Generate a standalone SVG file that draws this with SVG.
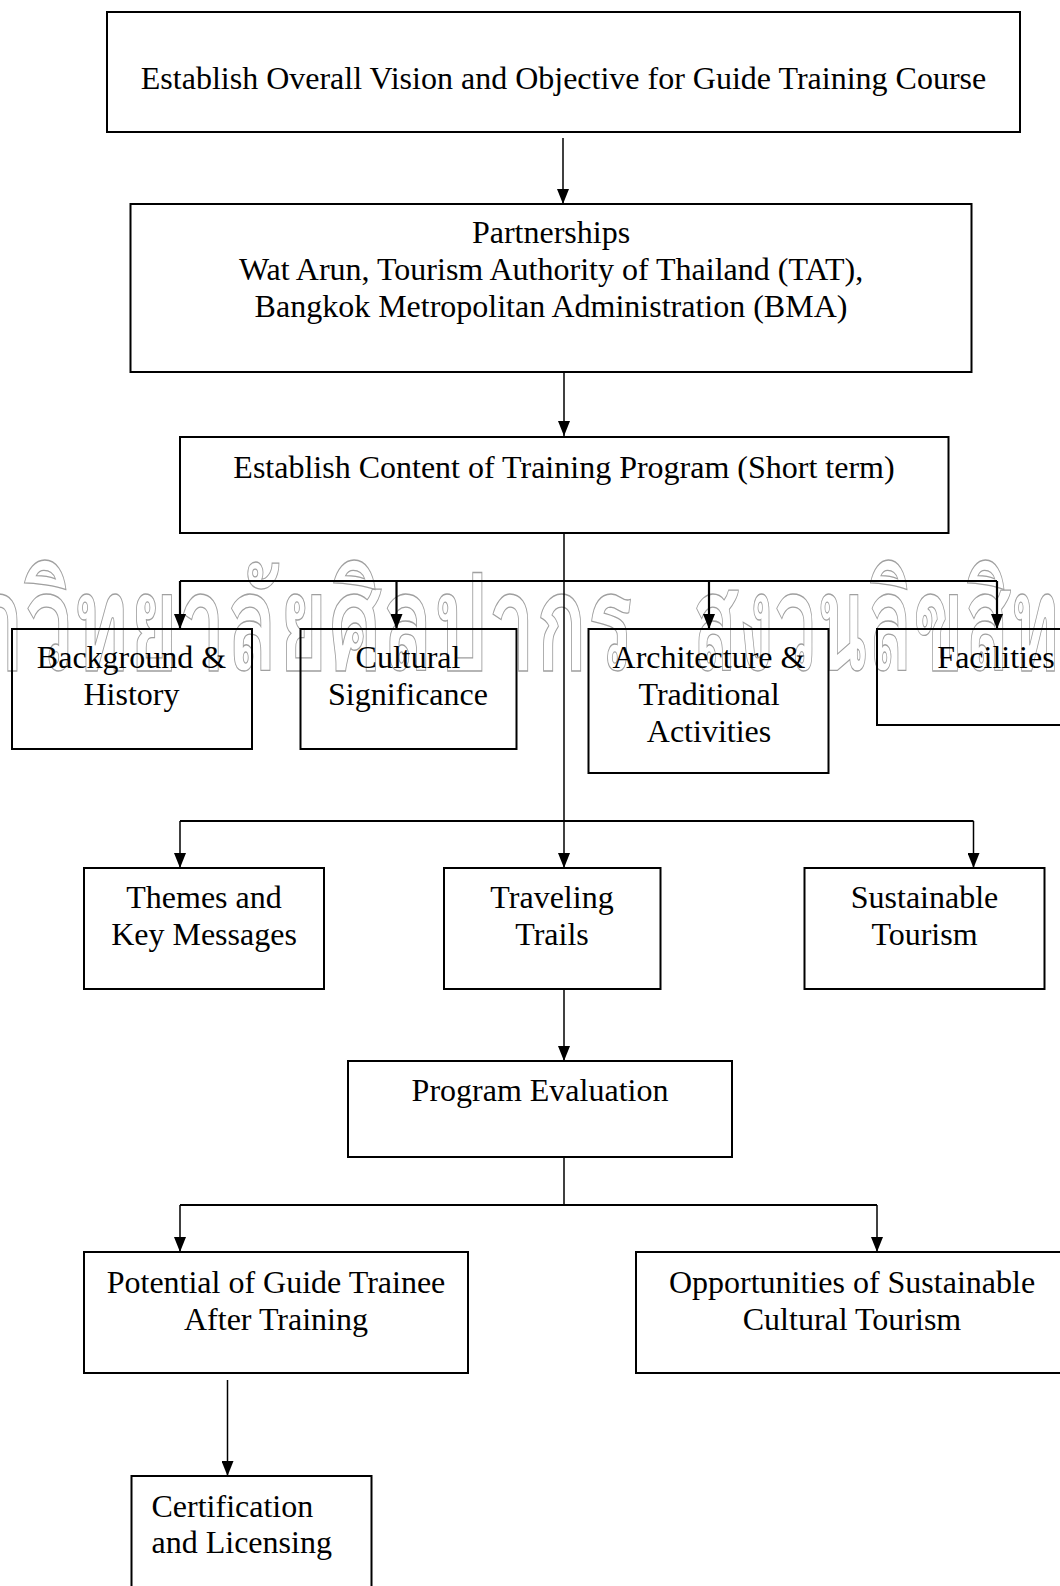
<svg xmlns="http://www.w3.org/2000/svg" width="1060" height="1586" viewBox="0 0 1060 1586">
<style>
.box{fill:none;stroke:#000;stroke-width:2}
.t{font-family:"Liberation Serif","Times New Roman",serif;font-size:32px;fill:#000;text-anchor:middle}
.ts{font-family:"Liberation Serif","Times New Roman",serif;font-size:32px;fill:#000;text-anchor:start}
.c{fill:none;stroke:#000;stroke-width:1.5}
.bus{fill:none;stroke:#000;stroke-width:2.2}
.wm{font-family:"Loma","Garuda","Norasi","Noto Sans Thai Looped","Noto Serif Thai","Noto Sans Thai",sans-serif;font-size:134px;font-weight:bold;fill:none;stroke:#a0a0a0;stroke-width:1.3}
</style>
<defs>
<marker id="ah" viewBox="0 0 15 12" refX="15" refY="6" markerWidth="15" markerHeight="12" markerUnits="userSpaceOnUse" orient="auto">
<path d="M0,0 L15,6 L0,12 z" fill="#000"/>
</marker>
</defs>
<rect width="1060" height="1586" fill="#fff"/>
<g id="watermark">
<text class="wm" x="-135" y="670" textLength="768" lengthAdjust="spacingAndGlyphs">มหาวิทยาลัยศิลปากร</text>
<text class="wm" x="692" y="670" textLength="413" lengthAdjust="spacingAndGlyphs">สงวนลิขสิทธิ์</text>
</g>
<g id="connectors">
<path class="c" d="M563,138 V204" marker-end="url(#ah)"/>
<path class="c" d="M564,372 V436" marker-end="url(#ah)"/>
<path class="c" d="M564,533 V868" marker-end="url(#ah)"/>
<path class="bus" d="M180,581 H997"/>
<path class="bus" d="M180,581 V629" marker-end="url(#ah)"/>
<path class="bus" d="M396.5,581 V629" marker-end="url(#ah)"/>
<path class="bus" d="M709,581 V629" marker-end="url(#ah)"/>
<path class="bus" d="M997,581 V629" marker-end="url(#ah)"/>
<path class="bus" d="M180,821 H973.5"/>
<path class="c" d="M180,821 V868" marker-end="url(#ah)"/>
<path class="c" d="M973.5,821 V868" marker-end="url(#ah)"/>
<path class="c" d="M564,989 V1061" marker-end="url(#ah)"/>
<path class="c" d="M564,1157 V1205"/>
<path class="bus" d="M180,1205 H877"/>
<path class="c" d="M180,1205 V1252" marker-end="url(#ah)"/>
<path class="c" d="M877,1205 V1252" marker-end="url(#ah)"/>
<path class="c" d="M227.5,1380 V1476" marker-end="url(#ah)"/>
</g>
<g id="n-vision">
<rect class="box" x="107" y="12" width="913" height="120"/>
<text class="t" x="563.5" y="89">Establish Overall Vision and Objective for Guide Training Course</text>
</g>
<g id="n-partnerships">
<rect class="box" x="130.5" y="204" width="841" height="168"/>
<text class="t" x="551" y="243">Partnerships</text>
<text class="t" x="551" y="280">Wat Arun, Tourism Authority of Thailand (TAT),</text>
<text class="t" x="551" y="317">Bangkok Metropolitan Administration (BMA)</text>
</g>
<g id="n-content">
<rect class="box" x="180" y="437" width="768.5" height="96"/>
<text class="t" x="564" y="478">Establish Content of Training Program (Short term)</text>
</g>
<g id="n-background">
<rect class="box" x="12" y="629" width="240" height="120"/>
<text class="t" x="131.5" y="668">Background &amp;</text>
<text class="t" x="131.5" y="705">History</text>
</g>
<g id="n-cultural">
<rect class="box" x="300.5" y="629" width="216" height="120"/>
<text class="t" x="408" y="668">Cultural</text>
<text class="t" x="408" y="705">Significance</text>
</g>
<g id="n-architecture">
<rect class="box" x="588.5" y="629" width="240" height="144"/>
<text class="t" x="709" y="668">Architecture &amp;</text>
<text class="t" x="709" y="705">Traditional</text>
<text class="t" x="709" y="742">Activities</text>
</g>
<g id="n-facilities">
<rect class="box" x="877" y="629" width="238" height="96"/>
<text class="t" x="996" y="668">Facilities</text>
</g>
<g id="n-themes">
<rect class="box" x="84" y="868" width="240" height="121"/>
<text class="t" x="204" y="908">Themes and</text>
<text class="t" x="204" y="945">Key Messages</text>
</g>
<g id="n-trails">
<rect class="box" x="444" y="868" width="216.5" height="121"/>
<text class="t" x="552" y="908">Traveling</text>
<text class="t" x="552" y="945">Trails</text>
</g>
<g id="n-sustainable">
<rect class="box" x="804.5" y="868" width="240" height="121"/>
<text class="t" x="924.5" y="908">Sustainable</text>
<text class="t" x="924.5" y="945">Tourism</text>
</g>
<g id="n-evaluation">
<rect class="box" x="348" y="1061" width="384" height="96"/>
<text class="t" x="540" y="1101">Program Evaluation</text>
</g>
<g id="n-potential">
<rect class="box" x="84" y="1252" width="384" height="121"/>
<text class="t" x="276" y="1293">Potential of Guide Trainee</text>
<text class="t" x="276" y="1330">After Training</text>
</g>
<g id="n-opportunities">
<rect class="box" x="636" y="1252" width="432" height="121"/>
<text class="t" x="852" y="1293">Opportunities of Sustainable</text>
<text class="t" x="852" y="1330">Cultural Tourism</text>
</g>
<g id="n-certification">
<rect class="box" x="131.5" y="1476" width="240" height="130"/>
<text class="ts" x="151.5" y="1517">Certification</text>
<text class="ts" x="151.5" y="1553">and Licensing</text>
</g>
</svg>
